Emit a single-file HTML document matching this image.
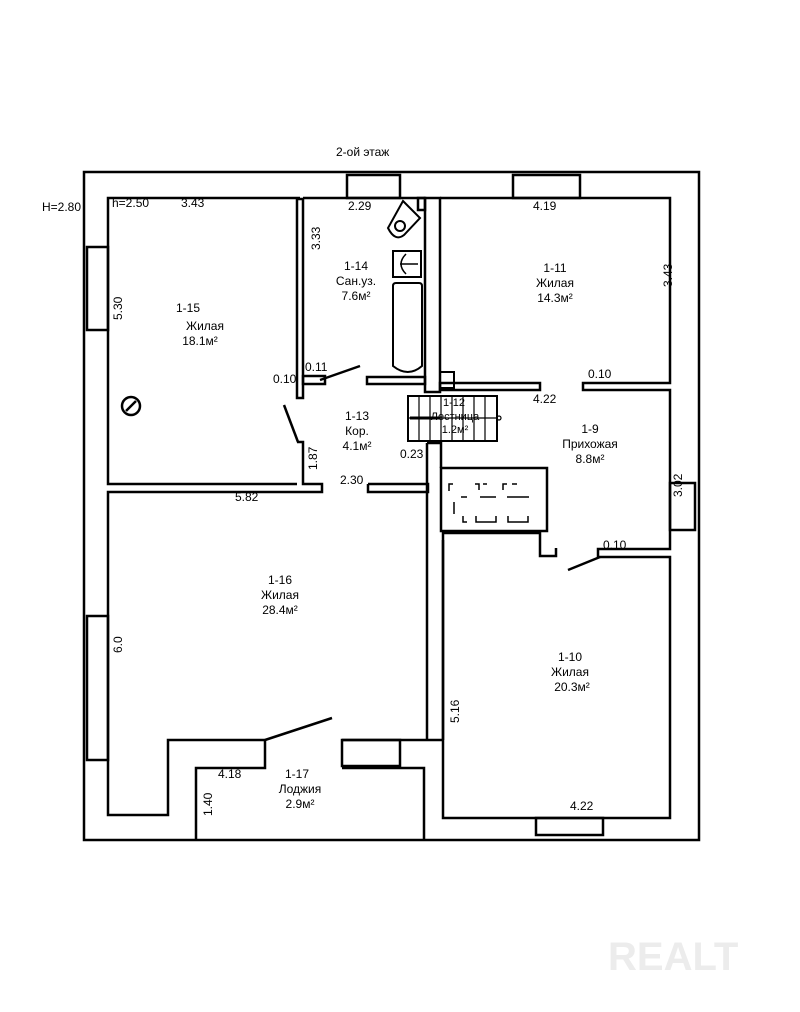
<!DOCTYPE html>
<html><head><meta charset="utf-8"><style>
html,body{margin:0;padding:0;background:#fff}
svg{display:block}
text{font-family:"Liberation Sans","DejaVu Sans",sans-serif;fill:#000}
</style></head><body>
<svg width="800" height="1012" viewBox="0 0 800 1012" xmlns="http://www.w3.org/2000/svg">
<g fill="none" stroke="#000" stroke-width="2.5">
<rect x="84" y="172" width="615" height="668"/>
<polyline points="300,198 108,198 108,484 297,484"/>
<rect x="297" y="199" width="6" height="199"/>
<polyline points="297,442 303,442 303,484 322,484 322,492 108,492 108,815 168,815 168,740 265,740 265,768 196,768 196,840"/>
<line x1="265" y1="740" x2="332" y2="718"/>
<line x1="284" y1="405" x2="298" y2="442"/>
<rect x="303" y="376" width="22" height="8"/>
<line x1="320" y1="380" x2="360" y2="366"/>
<polyline points="303,198 425,198"/>
<rect x="425" y="198" width="15" height="194"/>
<rect x="367" y="377" width="58" height="7"/>
<rect x="418" y="198" width="7" height="12"/>
<path d="M403 201 L420 218 L404 235 Q395 242 388 228 Z" stroke-width="2"/>
<circle cx="400" cy="226" r="5" stroke-width="2"/>
<rect x="393" y="251" width="28" height="26" stroke-width="2"/>
<path d="M406 254 Q396 264 406 274" stroke-width="1.5"/>
<line x1="400" y1="264" x2="418" y2="264" stroke-width="1.5"/>
<path d="M393 286 Q393 283 396 283 L419 283 Q422 283 422 286 L422 366 Q408 378 393 366 Z" stroke-width="2"/>
<rect x="440" y="372" width="14" height="16" stroke-width="2"/>
<polyline points="368,484 428,484 428,492 368,492 368,484"/>
<polyline points="440,198 670,198 670,383 583,383 583,390 670,390 670,549 598,549 598,557 670,557 670,818 443,818 443,540"/>
<rect x="440" y="383" width="100" height="7"/>
<rect x="408" y="396" width="89" height="45" stroke-width="2"/>
<g stroke-width="1.2">
<line x1="419" y1="396" x2="419" y2="441"/><line x1="430" y1="396" x2="430" y2="441"/><line x1="441" y1="396" x2="441" y2="441"/><line x1="452" y1="396" x2="452" y2="441"/><line x1="463" y1="396" x2="463" y2="441"/><line x1="474" y1="396" x2="474" y2="441"/><line x1="485" y1="396" x2="485" y2="441"/>
<line x1="408" y1="418" x2="497" y2="418"/>
</g>
<line x1="410" y1="418" x2="440" y2="418" stroke-width="3"/>
<circle cx="499" cy="418" r="2" stroke-width="1.2"/>
<polyline points="427,443 441,443 441,468"/>
<line x1="427" y1="443" x2="427" y2="740"/>
<line x1="443" y1="530" x2="443" y2="740"/>
<rect x="441" y="468" width="106" height="63"/>
<polyline points="443,533 540,533 540,556 556,556 556,548"/>
<line x1="568" y1="570" x2="600" y2="557"/>
<g stroke-width="1.5">
<polyline points="449,491 449,484 453,484"/><polyline points="475,484 479,484 479,490"/><polyline points="483,484 487,484"/><polyline points="507,484 503,484 503,490"/><polyline points="512,484 517,484"/>
<line x1="461" y1="497" x2="467" y2="497"/><line x1="480" y1="497" x2="496" y2="497"/><line x1="507" y1="497" x2="529" y2="497"/>
<polyline points="463,516 463,522 467,522"/><polyline points="476,516 476,522 496,522 496,516"/><polyline points="508,516 508,522 528,522 528,516"/>
<line x1="454" y1="502" x2="454" y2="514"/>
</g>
<polyline points="342,740 443,740"/>
<rect x="342" y="740" width="58" height="26"/>
<polyline points="342,768 424,768 424,840"/>
<rect x="347" y="175" width="53" height="23"/>
<rect x="513" y="175" width="67" height="23"/>
<rect x="87" y="247" width="21" height="83"/>
<rect x="87" y="616" width="21" height="144"/>
<rect x="670" y="483" width="25" height="47"/>
<rect x="536" y="818" width="67" height="17"/>
<circle cx="131" cy="406" r="9"/>
<line x1="126" y1="411" x2="136" y2="401"/>
</g>
<g font-size="12">
<text x="336" y="156">2-ой этаж</text>
<text x="42" y="211">H=2.80</text>
<text x="112" y="207">h=2.50</text>
<text x="181" y="207">3.43</text>
<text x="348" y="210">2.29</text>
<text x="533" y="210">4.19</text>
<text x="188" y="312" text-anchor="middle">1-15</text>
<text x="205" y="330" text-anchor="middle">Жилая</text>
<text x="200" y="345" text-anchor="middle">18.1м²</text>
<text x="356" y="270" text-anchor="middle">1-14</text>
<text x="356" y="285" text-anchor="middle">Сан.уз.</text>
<text x="356" y="300" text-anchor="middle">7.6м²</text>
<text x="555" y="272" text-anchor="middle">1-11</text>
<text x="555" y="287" text-anchor="middle">Жилая</text>
<text x="555" y="302" text-anchor="middle">14.3м²</text>
<text x="273" y="383">0.10</text>
<text x="305" y="371">0.11</text>
<text x="357" y="420" text-anchor="middle">1-13</text>
<text x="357" y="435" text-anchor="middle">Кор.</text>
<text x="357" y="450" text-anchor="middle">4.1м²</text>
<text x="454" y="406" text-anchor="middle" font-size="11">1-12</text>
<text x="455" y="420" text-anchor="middle" font-size="11">Лестница</text>
<text x="455" y="433" text-anchor="middle" font-size="11">1.2м²</text>
<text x="400" y="458">0.23</text>
<text x="533" y="403">4.22</text>
<text x="588" y="378">0.10</text>
<text x="590" y="433" text-anchor="middle">1-9</text>
<text x="590" y="448" text-anchor="middle">Прихожая</text>
<text x="590" y="463" text-anchor="middle">8.8м²</text>
<text x="340" y="484">2.30</text>
<text x="235" y="501">5.82</text>
<text x="603" y="549">0.10</text>
<text x="280" y="584" text-anchor="middle">1-16</text>
<text x="280" y="599" text-anchor="middle">Жилая</text>
<text x="280" y="614" text-anchor="middle">28.4м²</text>
<text x="570" y="661" text-anchor="middle">1-10</text>
<text x="570" y="676" text-anchor="middle">Жилая</text>
<text x="572" y="691" text-anchor="middle">20.3м²</text>
<text x="218" y="778">4.18</text>
<text x="297" y="778" text-anchor="middle">1-17</text>
<text x="300" y="793" text-anchor="middle">Лоджия</text>
<text x="300" y="808" text-anchor="middle">2.9м²</text>
<text x="570" y="810">4.22</text>
<text transform="translate(320,250) rotate(-90)">3.33</text>
<text transform="translate(672,287) rotate(-90)">3.43</text>
<text transform="translate(122,320) rotate(-90)">5.30</text>
<text transform="translate(317,470) rotate(-90)">1.87</text>
<text transform="translate(682,497) rotate(-90)">3.02</text>
<text transform="translate(122,653) rotate(-90)">6.0</text>
<text transform="translate(459,723) rotate(-90)">5.16</text>
<text transform="translate(212,816) rotate(-90)">1.40</text>
</g>
<text x="608" y="970" font-size="40" font-weight="bold" style="fill:#ececec">REALT</text>
</svg>
</body></html>
